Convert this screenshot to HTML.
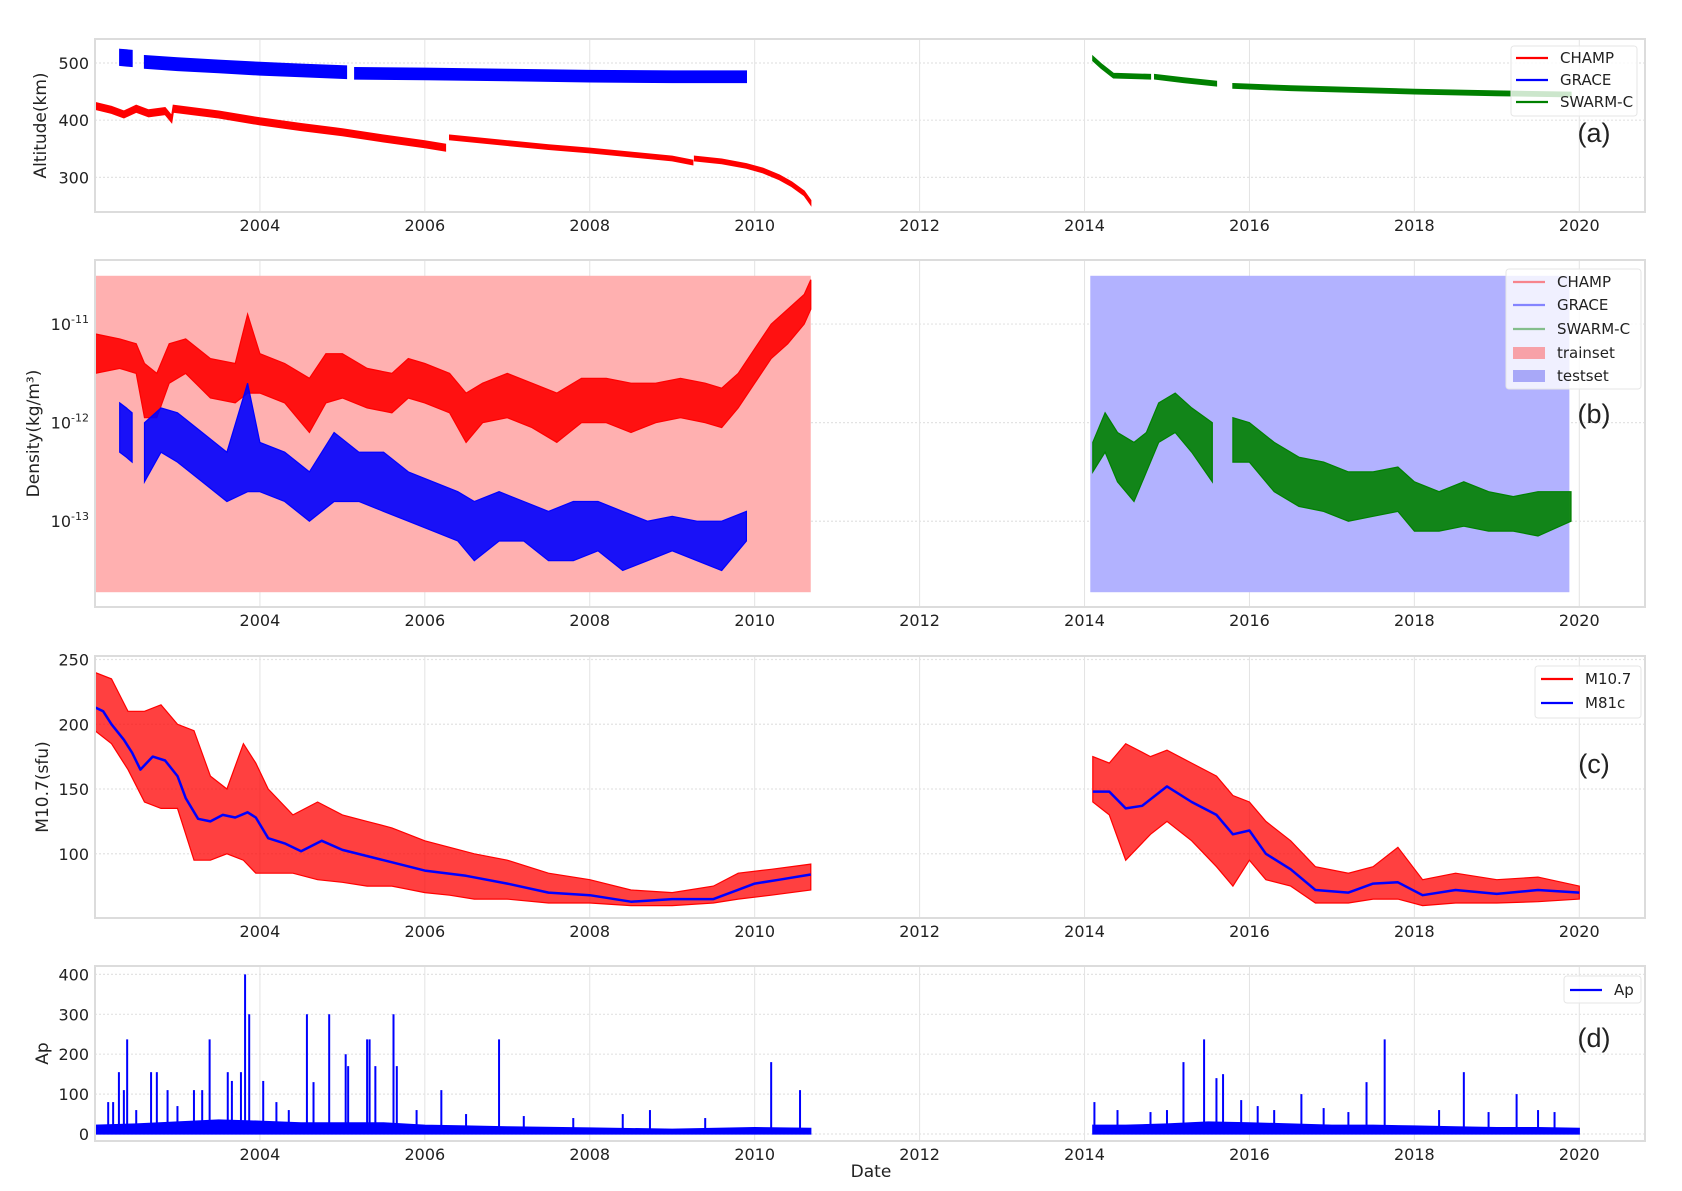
<!DOCTYPE html>
<html><head><meta charset="utf-8"><style>
html,body{margin:0;padding:0;background:#fff}
svg{display:block;font-family:"DejaVu Sans","Liberation Sans",sans-serif}
</style></head><body>
<svg id="fig" width="1682" height="1191" viewBox="0 0 1682 1191" xmlns="http://www.w3.org/2000/svg"></svg>
<script>
// ---------- data ----------
const yearTicks = [2004,2006,2008,2010,2012,2014,2016,2018,2020];
// (a) altitude (km), band center
const champAltT = [2002.0,2002.2,2002.35,2002.5,2002.65,2002.85,2002.93, 2002.95,2003.5,2004.0,2004.5,2005.0,2005.5,2006.0,2006.25];
const champAltV = [425,418,410,420,412,416,402, 420,410,398,388,379,368,358,352];
const champAlt2T = [2006.3,2007.0,2007.5,2008.0,2008.5,2009.0,2009.25];
const champAlt2V = [370,360,353,347,340,333,326];
const champAlt3T = [2009.27,2009.6,2009.9,2010.1,2010.3,2010.45,2010.6,2010.68];
const champAlt3V = [333,328,320,312,300,288,272,256];
const graceAltT = [2002.3,2002.45];
const graceAltV = [510,508];
const graceAlt2T = [2002.6,2003.0,2003.5,2004.0,2004.5,2005.05];
const graceAlt2V = [502,498,494,490,487,484];
const graceAlt3T = [2005.15,2006.0,2007.0,2008.0,2009.0,2009.9];
const graceAlt3V = [482,481,479,477,476,476];
const swarmAltT = [2014.1,2014.2,2014.35,2014.8];
const swarmAltV = [508,495,478,476];
const swarmAlt2T = [2014.85,2015.2,2015.6];
const swarmAlt2V = [476,470,464];
const swarmAlt3T = [2015.8,2016.5,2017.0,2018.0,2019.0,2019.9];
const swarmAlt3V = [460,456,454,450,447,445];
// (b) density log10 envelopes
const champDenT = [2002.0,2002.3,2002.5,2002.6,2002.75,2002.9,2003.1,2003.4,2003.7,2003.85,2004.0,2004.3,2004.6,2004.8,2005.0,2005.3,2005.6,2005.8,2006.0,2006.3,2006.5,2006.7,2007.0,2007.3,2007.6,2007.9,2008.2,2008.5,2008.8,2009.1,2009.4,2009.6,2009.8,2010.0,2010.2,2010.4,2010.6,2010.68];
const champDenLo = [-11.5,-11.45,-11.5,-11.95,-11.95,-11.6,-11.5,-11.75,-11.8,-11.7,-11.7,-11.8,-12.1,-11.8,-11.75,-11.85,-11.9,-11.75,-11.8,-11.9,-12.2,-12.0,-11.95,-12.05,-12.2,-12.0,-12.0,-12.1,-12.0,-11.95,-12.0,-12.05,-11.85,-11.6,-11.35,-11.2,-11.0,-10.85];
const champDenHi = [-11.1,-11.15,-11.2,-11.4,-11.5,-11.2,-11.15,-11.35,-11.4,-10.9,-11.3,-11.4,-11.55,-11.3,-11.3,-11.45,-11.5,-11.35,-11.4,-11.5,-11.7,-11.6,-11.5,-11.6,-11.7,-11.55,-11.55,-11.6,-11.6,-11.55,-11.6,-11.65,-11.5,-11.25,-11.0,-10.85,-10.7,-10.55];
const graceDenT = [2002.6,2002.8,2003.0,2003.3,2003.6,2003.85,2004.0,2004.3,2004.6,2004.9,2005.2,2005.5,2005.8,2006.1,2006.4,2006.6,2006.9,2007.2,2007.5,2007.8,2008.1,2008.4,2008.7,2009.0,2009.3,2009.6,2009.9];
const graceDenLo = [-12.6,-12.3,-12.4,-12.6,-12.8,-12.7,-12.7,-12.8,-13.0,-12.8,-12.8,-12.9,-13.0,-13.1,-13.2,-13.4,-13.2,-13.2,-13.4,-13.4,-13.3,-13.5,-13.4,-13.3,-13.4,-13.5,-13.2];
const graceDenHi = [-12.0,-11.85,-11.9,-12.1,-12.3,-11.6,-12.2,-12.3,-12.5,-12.1,-12.3,-12.3,-12.5,-12.6,-12.7,-12.8,-12.7,-12.8,-12.9,-12.8,-12.8,-12.9,-13.0,-12.95,-13.0,-13.0,-12.9];
const grace0T = [2002.3,2002.38,2002.45];
const grace0Lo = [-12.3,-12.35,-12.4];
const grace0Hi = [-11.8,-11.85,-11.9];
const swarmDenT = [2014.1,2014.25,2014.4,2014.6,2014.75,2014.9,2015.1,2015.3,2015.55];
const swarmDenLo = [-12.5,-12.3,-12.6,-12.8,-12.5,-12.2,-12.1,-12.3,-12.6];
const swarmDenHi = [-12.2,-11.9,-12.1,-12.2,-12.1,-11.8,-11.7,-11.85,-12.0];
const swarmDen2T = [2015.8,2016.0,2016.3,2016.6,2016.9,2017.2,2017.5,2017.8,2018.0,2018.3,2018.6,2018.9,2019.2,2019.5,2019.9];
const swarmDen2Lo = [-12.4,-12.4,-12.7,-12.85,-12.9,-13.0,-12.95,-12.9,-13.1,-13.1,-13.05,-13.1,-13.1,-13.15,-13.0];
const swarmDen2Hi = [-11.95,-12.0,-12.2,-12.35,-12.4,-12.5,-12.5,-12.45,-12.6,-12.7,-12.6,-12.7,-12.75,-12.7,-12.7];
const trainSpan = [2002.0,2010.68];
const testSpan = [2014.07,2019.88];
const shadeLog = [-13.72,-10.51];
// (c) M10.7 / M81c
const m81T = [2002.0,2002.1,2002.2,2002.35,2002.45,2002.55,2002.7,2002.85,2003.0,2003.1,2003.25,2003.4,2003.55,2003.7,2003.85,2003.95,2004.1,2004.3,2004.5,2004.75,2005.0,2005.5,2006.0,2006.5,2007.0,2007.5,2008.0,2008.5,2009.0,2009.5,2010.0,2010.3,2010.68];
const m81V = [213,210,200,188,178,165,175,172,160,143,127,125,130,128,132,128,112,108,102,110,103,95,87,83,77,70,68,63,65,65,77,80,84];
const m81bT = [2014.1,2014.3,2014.5,2014.7,2015.0,2015.3,2015.6,2015.8,2016.0,2016.2,2016.5,2016.8,2017.2,2017.5,2017.8,2018.1,2018.5,2019.0,2019.5,2020.0];
const m81bV = [148,148,135,137,152,140,130,115,118,100,88,72,70,77,78,68,72,69,72,70];
const m107T = [2002.0,2002.2,2002.4,2002.6,2002.8,2003.0,2003.2,2003.4,2003.6,2003.8,2003.95,2004.1,2004.4,2004.7,2005.0,2005.3,2005.6,2006.0,2006.3,2006.6,2007.0,2007.5,2008.0,2008.5,2009.0,2009.5,2009.8,2010.2,2010.68];
const m107Lo = [195,185,165,140,135,135,95,95,100,95,85,85,85,80,78,75,75,70,68,65,65,62,62,60,60,62,65,68,72];
const m107Hi = [240,235,210,210,215,200,195,160,150,185,170,150,130,140,130,125,120,110,105,100,95,85,80,72,70,75,85,88,92];
const m107bT = [2014.1,2014.3,2014.5,2014.8,2015.0,2015.3,2015.6,2015.8,2016.0,2016.2,2016.5,2016.8,2017.2,2017.5,2017.8,2018.1,2018.5,2019.0,2019.5,2020.0];
const m107bLo = [140,130,95,115,125,110,90,75,95,80,75,62,62,65,65,60,62,62,63,65];
const m107bHi = [175,170,185,175,180,170,160,145,140,125,110,90,85,90,105,80,85,80,82,75];
// (d) Ap
const apBaseT = [2002.0,2002.5,2003.0,2003.5,2004.0,2004.5,2005.0,2005.5,2006.0,2006.5,2007.0,2008.0,2009.0,2010.0,2010.68];
const apBaseHi = [22,25,30,35,32,28,28,28,22,20,18,15,12,16,14];
const apBase2T = [2014.1,2014.5,2015.0,2015.5,2016.0,2016.5,2017.0,2017.5,2018.0,2018.5,2019.0,2019.5,2020.0];
const apBase2Hi = [22,22,25,30,28,25,22,22,20,18,16,16,14];
const apSpikeT = [2002.16,2002.22,2002.29,2002.35,2002.39,2002.5,2002.68,2002.75,2002.88,2003.0,2003.2,2003.3,2003.39,2003.61,2003.66,2003.77,2003.82,2003.87,2004.04,2004.2,2004.35,2004.57,2004.65,2004.84,2005.04,2005.07,2005.3,2005.33,2005.4,2005.62,2005.66,2005.9,2006.2,2006.5,2006.9,2007.2,2007.8,2008.4,2008.73,2009.4,2010.2,2010.55,2014.12,2014.4,2014.8,2015.0,2015.2,2015.45,2015.6,2015.68,2015.9,2016.1,2016.3,2016.63,2016.9,2017.2,2017.42,2017.64,2018.3,2018.6,2018.9,2019.24,2019.5,2019.7];
const apSpikeV = [80,80,155,110,237,60,155,155,110,70,110,110,237,155,133,155,400,300,133,80,60,300,130,300,200,170,237,237,170,300,170,60,110,50,237,45,40,50,60,40,180,110,80,60,55,60,180,237,140,150,85,70,60,100,65,55,130,237,60,155,55,100,60,55];

// ---------- layout ----------
const NS='http://www.w3.org/2000/svg';
const svg=document.getElementById('fig');
const X0=95, X1=1645, T0=2002.0, T1=2020.797;
function xs(t){return X0+(t-T0)/(T1-T0)*(X1-X0);}
const panels={
 a:{top:39,bot:212,lo:239.5,hi:542},
 b:{top:260,bot:607,lo:-13.87,hi:-10.35},
 c:{top:656,bot:918,lo:50.4,hi:252.7},
 d:{top:966,bot:1141,lo:-17.5,hi:421}
};
function ys(p,v){const P=panels[p];return P.bot-(v-P.lo)/(P.hi-P.lo)*(P.bot-P.top);}
function mk(tag,attrs,parent){const e=document.createElementNS(NS,tag);for(const k in attrs)e.setAttribute(k,attrs[k]);(parent||svg).appendChild(e);return e;}
function txt(x,y,s,attrs,parent){const e=mk('text',Object.assign({x:x,y:y},attrs||{}),parent);e.textContent=s;return e;}

function band(p,T,Lo,Hi,color,name,op){
 let d='M'+T.map((t,i)=>xs(t).toFixed(1)+','+ys(p,Hi[i]).toFixed(1)).join('L');
 for(let i=T.length-1;i>=0;i--)d+='L'+xs(T[i]).toFixed(1)+','+ys(p,Lo[i]).toFixed(1);
 const e=mk('path',{d:d+'Z',fill:color,'fill-opacity':op||1,stroke:color,'stroke-width':1.2});
 
 
 return e;
}
function line(p,T,V,color,w,name){
 const e=mk('polyline',{points:T.map((t,i)=>xs(t).toFixed(1)+','+ys(p,V[i]).toFixed(1)).join(' '),fill:'none',stroke:color,'stroke-width':w,'stroke-linejoin':'round'});
 
 
 return e;
}

function frame(p,name,yticks,ylabel,ylabelX){
 const P=panels[p];
 const g=mk('g',{});
 
 
 yearTicks.forEach(y=>{
  const x=xs(y);
  mk('line',{x1:x,x2:x,y1:P.top,y2:P.bot,stroke:'#e3e3e3','stroke-width':1},g);
  const t=txt(x,P.bot+19,String(y),{'text-anchor':'middle','font-size':16,fill:'#222'},g);
  
  
 });
 yticks.forEach(v=>{
  const y=ys(p,v.v);
  mk('line',{x1:X0,x2:X1,y1:y,y2:y,stroke:'#e3e3e3','stroke-width':1.2,'stroke-dasharray':'2,2'},g);
  const t=txt(89,y+6,'',{'text-anchor':'end','font-size':16,fill:'#222'},g);
  if(v.sup){t.textContent='10';const s=mk('tspan',{dy:-7,'font-size':11},t);s.textContent=v.sup;}
  else t.textContent=String(v.v);
  
  
 });
 const cy=(P.top+P.bot)/2;
 const yl=txt(ylabelX,cy,ylabel,{'text-anchor':'middle','font-size':17,fill:'#222',transform:'rotate(-90 '+ylabelX+' '+cy+')'},g);
 
 
 return g;
}
function border(p){
 const P=panels[p];
 const r=mk('rect',{x:X0,y:P.top,width:X1-X0,height:P.bot-P.top,fill:'none',stroke:'#dcdcdc','stroke-width':2});
 
 
}
function legend(x,y,w,h,items,name){
 const g=mk('g',{});
 
 
 mk('rect',{x:x,y:y,width:w,height:h,rx:3,fill:'#fff','fill-opacity':0.8,stroke:'#e6e6e6'},g);
 items.forEach(it=>{
  if(it.patch)mk('rect',{x:it.lx,y:it.y-6,width:32,height:12,fill:it.c},g);
  else mk('line',{x1:it.lx,x2:it.lx+32,y1:it.y,y2:it.y,stroke:it.c,'stroke-width':2.2,'stroke-opacity':it.op||1},g);
  const t=txt(it.lx+44,it.y+5,it.s,{'font-size':15,fill:'#222'},g);
  
  
 });
}
function panelLabel(s,y){
 const t=txt(1594,y,s,{'text-anchor':'middle','font-size':27,fill:'#222','font-family':'Liberation Sans, sans-serif'});
 
 
}

// ----- (a) -----
frame('a','altitude-panel',[{v:300},{v:400},{v:500}],'Altitude(km)',46);
function altBand(T,V,c,w,name){band('a',T,V.map(v=>v-w),V.map(v=>v+w),c,name);}
altBand(champAltT,champAltV,'#ff0000',6,'champ-altitude');
altBand(champAlt2T,champAlt2V,'#ff0000',4,'champ-altitude');
altBand(champAlt3T,champAlt3V,'#ff0000',4,'champ-altitude');
altBand(graceAltT,graceAltV,'#0000ff',14,'grace-altitude');
altBand(graceAlt2T,graceAlt2V,'#0000ff',11,'grace-altitude');
altBand(graceAlt3T,graceAlt3V,'#0000ff',10,'grace-altitude');
altBand(swarmAltT,swarmAltV,'#008000',4,'swarm-altitude');
altBand(swarmAlt2T,swarmAlt2V,'#008000',4,'swarm-altitude');
altBand(swarmAlt3T,swarmAlt3V,'#008000',4,'swarm-altitude');
border('a');
legend(1511,46,126,70,[{lx:1516,y:58,c:'#ff0000',s:'CHAMP'},{lx:1516,y:80,c:'#0000ff',s:'GRACE'},{lx:1516,y:102,c:'#008000',s:'SWARM-C'}],'altitude-legend');
panelLabel('(a)',142);

// ----- (b) -----
frame('b','density-panel',[{v:-11,sup:'-11'},{v:-12,sup:'-12'},{v:-13,sup:'-13'}],'Density(kg/m³)',39);
(function(){
 const r1=mk('rect',{x:xs(trainSpan[0]),y:ys('b',shadeLog[1]),width:xs(trainSpan[1])-xs(trainSpan[0]),height:ys('b',shadeLog[0])-ys('b',shadeLog[1]),fill:'#ffb0b0'});
 
 
 const r2=mk('rect',{x:xs(testSpan[0]),y:ys('b',shadeLog[1]),width:xs(testSpan[1])-xs(testSpan[0]),height:ys('b',shadeLog[0])-ys('b',shadeLog[1]),fill:'#b2b2ff'});
 
 
})();
band('b',champDenT,champDenLo,champDenHi,'#ff0000','champ-density',0.9);
band('b',grace0T,grace0Lo,grace0Hi,'#0000ff','grace-density',0.9);
band('b',graceDenT,graceDenLo,graceDenHi,'#0000ff','grace-density',0.9);
band('b',swarmDenT,swarmDenLo,swarmDenHi,'#008000','swarm-density',0.9);
band('b',swarmDen2T,swarmDen2Lo,swarmDen2Hi,'#008000','swarm-density',0.9);
border('b');
legend(1506,269,135,120,[{lx:1513,y:282,c:'#ff0000',op:0.45,s:'CHAMP'},{lx:1513,y:305,c:'#0000ff',op:0.45,s:'GRACE'},{lx:1513,y:329,c:'#008000',op:0.45,s:'SWARM-C'},{lx:1513,y:353,c:'#f7a1a8',patch:1,s:'trainset'},{lx:1513,y:376,c:'#a8a8f8',patch:1,s:'testset'}],'density-legend');
panelLabel('(b)',423);

// ----- (c) -----
frame('c','m107-panel',[{v:100},{v:150},{v:200},{v:250}],'M10.7(sfu)',48);
band('c',m107T,m107Lo,m107Hi,'#ff0000','m107-series',0.75);
band('c',m107bT,m107bLo,m107bHi,'#ff0000','m107-series',0.75);
line('c',m81T,m81V,'#0000ff',2.5,'m81c-series');
line('c',m81bT,m81bV,'#0000ff',2.5,'m81c-series');
border('c');
legend(1535,666,106,52,[{lx:1541,y:679,c:'#ff0000',s:'M10.7'},{lx:1541,y:703,c:'#0000ff',s:'M81c'}],'m107-legend');
panelLabel('(c)',773);

// ----- (d) -----
frame('d','ap-panel',[{v:0},{v:100},{v:200},{v:300},{v:400}],'Ap',48);
band('d',apBaseT,apBaseT.map(()=>0),apBaseHi,'#0000ff','ap-base',1);
band('d',apBase2T,apBase2T.map(()=>0),apBase2Hi,'#0000ff','ap-base',1);
apSpikeT.forEach((t,i)=>{
 const e=mk('line',{x1:xs(t),x2:xs(t),y1:ys('d',0),y2:ys('d',apSpikeV[i]),stroke:'#0000ff','stroke-width':2});
 
 
});
border('d');
legend(1564,976,77,27,[{lx:1570,y:990,c:'#0000ff',s:'Ap'}],'ap-legend');
panelLabel('(d)',1047);

const dl=txt(871,1177,'Date',{'text-anchor':'middle','font-size':17,fill:'#222'});


</script>
</body></html>
